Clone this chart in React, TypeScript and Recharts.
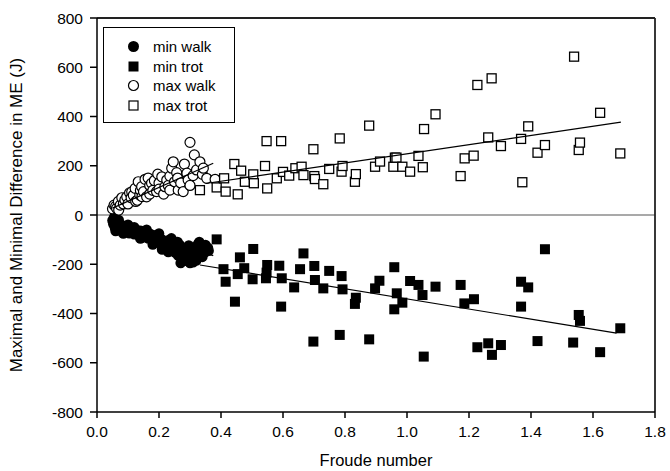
import React from 'react';
import { ScatterChart, Scatter, XAxis, YAxis, ReferenceLine, Legend } from 'recharts';

// Froude number (x) vs. difference in ME in J (y)
const minWalk: [number, number][] = [
  [0.05, -22], [0.053, -38], [0.055, -10], [0.058, -52], [0.06, -65], [0.062, -30], [0.068, -48],
  [0.07, -20], [0.072, -62], [0.078, -40], [0.083, -55], [0.085, -75], [0.088, -68], [0.094, -47],
  [0.1, -60], [0.1, -40], [0.104, -74], [0.11, -52], [0.114, -66], [0.12, -78], [0.12, -50], [0.125, -58],
  [0.13, -72], [0.136, -84], [0.14, -95], [0.141, -64], [0.146, -78], [0.15, -90], [0.156, -70],
  [0.16, -60], [0.161, -84], [0.166, -95], [0.171, -76], [0.176, -88], [0.18, -120], [0.182, -100],
  [0.187, -82], [0.192, -104], [0.197, -92], [0.2, -75], [0.202, -114], [0.207, -97], [0.21, -140],
  [0.212, -124], [0.217, -108], [0.222, -134], [0.228, -118], [0.23, -150], [0.232, -102], [0.237, -145],
  [0.24, -95], [0.242, -128], [0.247, -112], [0.252, -152], [0.257, -133], [0.26, -110], [0.262, -164],
  [0.267, -122], [0.27, -195], [0.272, -148], [0.277, -172], [0.28, -180], [0.282, -138], [0.287, -186],
  [0.292, -158], [0.296, -124], [0.3, -195], [0.301, -176], [0.306, -143], [0.31, -192], [0.316, -132],
  [0.32, -185], [0.321, -162], [0.326, -118], [0.33, -110], [0.331, -152], [0.336, -128], [0.34, -170],
  [0.342, -142], [0.35, -150], [0.35, -122], [0.358, -134], [0.36, -145],
];

const minTrot: [number, number][] = [
  [0.386, -99], [0.408, -220], [0.415, -271], [0.445, -352], [0.454, -240], [0.461, -172], [0.475, -216],
  [0.502, -261], [0.504, -138], [0.545, -257], [0.547, -234], [0.549, -203], [0.588, -206], [0.594, -372],
  [0.596, -257], [0.636, -294], [0.655, -220], [0.666, -156], [0.698, -514], [0.701, -207], [0.703, -264],
  [0.73, -298], [0.749, -227], [0.783, -487], [0.789, -248], [0.792, -302], [0.832, -361], [0.835, -336],
  [0.878, -505], [0.897, -298], [0.911, -267], [0.959, -212], [0.959, -383], [0.967, -318], [0.985, -356],
  [1.01, -268], [1.037, -284], [1.05, -325], [1.054, -575], [1.092, -291], [1.173, -284], [1.185, -359],
  [1.216, -342], [1.227, -537], [1.262, -521], [1.274, -568], [1.303, -528], [1.368, -271], [1.368, -372],
  [1.391, -294], [1.421, -512], [1.445, -139], [1.536, -518], [1.554, -406], [1.558, -430], [1.623, -557],
  [1.688, -460],
];

const maxWalk: [number, number][] = [
  [0.05, 25], [0.055, 40], [0.06, 35], [0.063, 27], [0.069, 55], [0.07, 20], [0.075, 40], [0.08, 70],
  [0.085, 45], [0.09, 61], [0.096, 74], [0.1, 45], [0.105, 90], [0.11, 70], [0.112, 94], [0.117, 80],
  [0.123, 108], [0.125, 55], [0.13, 60], [0.133, 135], [0.138, 81], [0.14, 100], [0.144, 115], [0.145, 75],
  [0.15, 95], [0.155, 145], [0.16, 74], [0.165, 150], [0.17, 120], [0.17, 85], [0.176, 129], [0.18, 100],
  [0.185, 140], [0.192, 95], [0.196, 166], [0.2, 130], [0.2, 105], [0.209, 155], [0.215, 85], [0.219, 115],
  [0.225, 142], [0.23, 120], [0.235, 101], [0.235, 158], [0.241, 190], [0.246, 216], [0.25, 135],
  [0.257, 172], [0.26, 150], [0.262, 101], [0.27, 130], [0.278, 95], [0.282, 207], [0.29, 170], [0.294, 142],
  [0.3, 295], [0.3, 120], [0.31, 160], [0.314, 244], [0.321, 183], [0.332, 216], [0.34, 165], [0.343, 190],
  [0.354, 149], [0.381, 145],
];

const maxTrot: [number, number][] = [
  [0.332, 101], [0.386, 112], [0.41, 149], [0.415, 95], [0.443, 207], [0.454, 84], [0.465, 180],
  [0.477, 135], [0.504, 165], [0.506, 129], [0.542, 199], [0.547, 300], [0.549, 108], [0.594, 300],
  [0.58, 149], [0.6, 175], [0.62, 160], [0.64, 190], [0.66, 196], [0.666, 162], [0.698, 267], [0.701, 158],
  [0.703, 146], [0.73, 125], [0.749, 187], [0.783, 311], [0.789, 176], [0.792, 199], [0.832, 135],
  [0.835, 166], [0.878, 363], [0.897, 196], [0.913, 217], [0.956, 196], [0.961, 233], [0.966, 233],
  [0.985, 196], [1.01, 176], [1.037, 240], [1.051, 194], [1.055, 349], [1.092, 409], [1.173, 158],
  [1.186, 230], [1.215, 241], [1.227, 528], [1.262, 315], [1.273, 555], [1.303, 280], [1.368, 309],
  [1.372, 133], [1.391, 360], [1.421, 253], [1.445, 284], [1.539, 643], [1.554, 264], [1.558, 294],
  [1.623, 415], [1.688, 250],
];

// regression lines (end points)
const maxWalkFit: [number, number][] = [[0.05, 28], [0.375, 210]];
const minWalkFit: [number, number][] = [[0.05, -30], [0.375, -165]];
const maxTrotFit: [number, number][] = [[0.35, 128], [1.69, 377]];
const minTrotFit: [number, number][] = [[0.332, -203], [1.676, -480]];

const xTicks = [0, 0.2, 0.4, 0.6, 0.8, 1.0, 1.2, 1.4, 1.6, 1.8];
const yTicks = [-800, -600, -400, -200, 0, 200, 400, 600, 800];

const toPts = (arr: [number, number][]) => arr.map(([x, y]) => ({ x, y }));

const FONT = '"Liberation Sans", Arial, sans-serif';
const R = 5;

const FilledCircle = (p: any) => <circle cx={p.cx} cy={p.cy} r={R + 0.3} fill="#000" />;
const OpenCircle = (p: any) => <circle cx={p.cx} cy={p.cy} r={R} fill="#fff" stroke="#000" strokeWidth={1.2} />;
const FilledSquare = (p: any) => <rect x={p.cx - R} y={p.cy - R} width={R * 2} height={R * 2} fill="#000" />;
const OpenSquare = (p: any) => (
  <rect x={p.cx - R + 0.5} y={p.cy - R + 0.5} width={R * 2 - 1} height={R * 2 - 1} fill="#fff" stroke="#000" strokeWidth={1.3} />
);
const NoShape = () => <g />;

const legendItems = [
  { name: 'min walk', icon: <circle cx={6.5} cy={6.5} r={5.5} fill="#000" /> },
  { name: 'min trot', icon: <rect x={1.5} y={1.5} width={10} height={10} fill="#000" /> },
  { name: 'max walk', icon: <circle cx={6.5} cy={6.5} r={5} fill="#fff" stroke="#000" strokeWidth={1.2} /> },
  { name: 'max trot', icon: <rect x={2} y={2} width={9} height={9} fill="#fff" stroke="#000" strokeWidth={1.2} /> },
];

const LegendBox = () => (
  <div
    style={{
      border: '1px solid #000',
      width: 132,
      height: 96,
      boxSizing: 'border-box',
      padding: '9px 0 0 23px',
      fontFamily: FONT,
      fontSize: 15,
      background: '#fff',
    }}
  >
    {legendItems.map((it) => (
      <div key={it.name} style={{ display: 'flex', alignItems: 'center', height: 19.5 }}>
        <svg width={13} height={13} style={{ marginRight: 13 }}>
          {it.icon}
        </svg>
        <span>{it.name}</span>
      </div>
    ))}
  </div>
);

const tickStyle = { fill: '#000', fontSize: 15.5, fontFamily: FONT };

export default function App() {
  return (
    <div style={{ position: 'absolute', left: 0, top: 0, background: '#fff' }}>
      <ScatterChart width={670} height={471} margin={{ top: 18, right: 15, bottom: 29, left: 0 }}>
        <XAxis
          type="number"
          dataKey="x"
          domain={[0, 1.8]}
          ticks={xTicks}
          tickFormatter={(v: number) => v.toFixed(1)}
          tick={tickStyle}
          tickSize={6}
          tickMargin={8}
          height={30}
          stroke="#000"
          strokeWidth={1.5}
          allowDataOverflow
          label={{ value: 'Froude number', position: 'insideBottom', offset: -24, style: { fontSize: 16.5, fontFamily: FONT, fill: '#000' } }}
        />
        <YAxis
          type="number"
          dataKey="y"
          domain={[-800, 800]}
          ticks={yTicks}
          tick={tickStyle}
          tickSize={7}
          tickMargin={7}
          width={97}
          stroke="#000"
          strokeWidth={1.5}
          allowDataOverflow
          label={{
            value: 'Maximal and Minimal Difference in ME (J)',
            angle: -90,
            position: 'insideLeft',
            offset: 16,
            style: { textAnchor: 'middle', fontSize: 17, fontFamily: FONT, fill: '#000' },
          }}
        />
        <ReferenceLine y={0} stroke="#8c8c8c" strokeWidth={1.5} />
        <ReferenceLine y={800} stroke="#222" strokeWidth={1.8} />
        <ReferenceLine x={1.8} stroke="#222" strokeWidth={1.8} />
        <Legend
          layout="horizontal"
          verticalAlign="middle"
          align="center"
          wrapperStyle={{ left: 103, top: 27, width: 132, height: 96 }}
          content={() => <LegendBox />}
        />
        <Scatter name="min walk" data={toPts(minWalk)} shape={FilledCircle} isAnimationActive={false} />
        <Scatter name="min trot" data={toPts(minTrot)} shape={FilledSquare} isAnimationActive={false} />
        <Scatter name="max walk" data={toPts(maxWalk)} shape={OpenCircle} isAnimationActive={false} />
        <Scatter name="max trot" data={toPts(maxTrot)} shape={OpenSquare} isAnimationActive={false} />
        <Scatter data={toPts(maxWalkFit)} line={{ stroke: '#000', strokeWidth: 1.2 }} shape={NoShape} legendType="none" isAnimationActive={false} />
        <Scatter data={toPts(minWalkFit)} line={{ stroke: '#000', strokeWidth: 1.2 }} shape={NoShape} legendType="none" isAnimationActive={false} />
        <Scatter data={toPts(maxTrotFit)} line={{ stroke: '#000', strokeWidth: 1.2 }} shape={NoShape} legendType="none" isAnimationActive={false} />
        <Scatter data={toPts(minTrotFit)} line={{ stroke: '#000', strokeWidth: 1.2 }} shape={NoShape} legendType="none" isAnimationActive={false} />
      </ScatterChart>
    </div>
  );
}
